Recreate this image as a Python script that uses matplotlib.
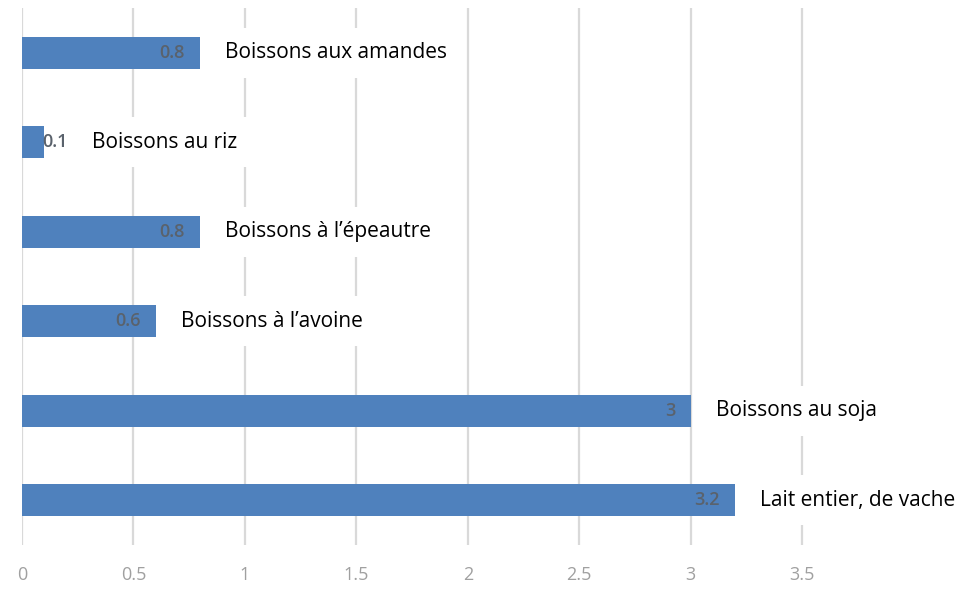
import matplotlib
matplotlib.use("Agg")
import matplotlib.pyplot as plt
import numpy as np

plt.rcParams['font.family'] = ['Open Sans', 'DejaVu Sans']

# data (top to bottom in the picture)
categories = ["Boissons aux amandes", "Boissons au riz", "Boissons à l’épeautre",
              "Boissons à l’avoine", "Boissons au soja", "Lait entier, de vache"]
values = [0.8, 0.1, 0.8, 0.6, 3, 3.2]
value_labels = ["0.8", "0.1", "0.8", "0.6", "3", "3.2"]
xticks = [0, 0.5, 1, 1.5, 2, 2.5, 3, 3.5]
xtick_labels = ["0", "0.5", "1", "1.5", "2", "2.5", "3", "3.5"]

bar_color = "#4f81bd"

fig = plt.figure(figsize=(9.67, 5.97), dpi=100)
ax = fig.add_axes([0.0228, 0.0871, 0.9772, 0.8995])

y_pos = np.arange(len(categories))
ax.barh(y_pos, values, height=0.36, color=bar_color, zorder=3)

for y, v, vl, cat in zip(y_pos, values, value_labels, categories):
    # value inside the bar end
    ax.annotate(vl, xy=(v, y), xytext=(-11 if v > 0.2 else 17, 0),
                textcoords="offset points", ha="right", va="center",
                fontsize=13, color="#5a626c", fontweight="semibold", zorder=4)
    # category label with white box that hides the gridlines
    ax.annotate(cat, xy=(max(v, 0.2), y), xytext=(18, 0),
                textcoords="offset points", ha="left", va="center",
                fontsize=15, color="black", zorder=2.5,
                bbox=dict(boxstyle="square,pad=0.7", fc="white", ec="none"))

ax.set_xlim(0, 4.24)
ax.set_ylim(len(categories) - 0.5, -0.5)
ax.set_xticks(xticks)
ax.set_xticklabels(xtick_labels)
ax.set_yticks([])
ax.tick_params(axis="x", length=0, pad=15, labelsize=13, labelcolor="#a0a0a0")
ax.grid(axis="x", color="#d9d9d9", linewidth=1.6, zorder=1)
ax.set_axisbelow(True)
for s in ax.spines.values():
    s.set_visible(False)

fig.savefig("out.png", dpi=100, facecolor="white")
